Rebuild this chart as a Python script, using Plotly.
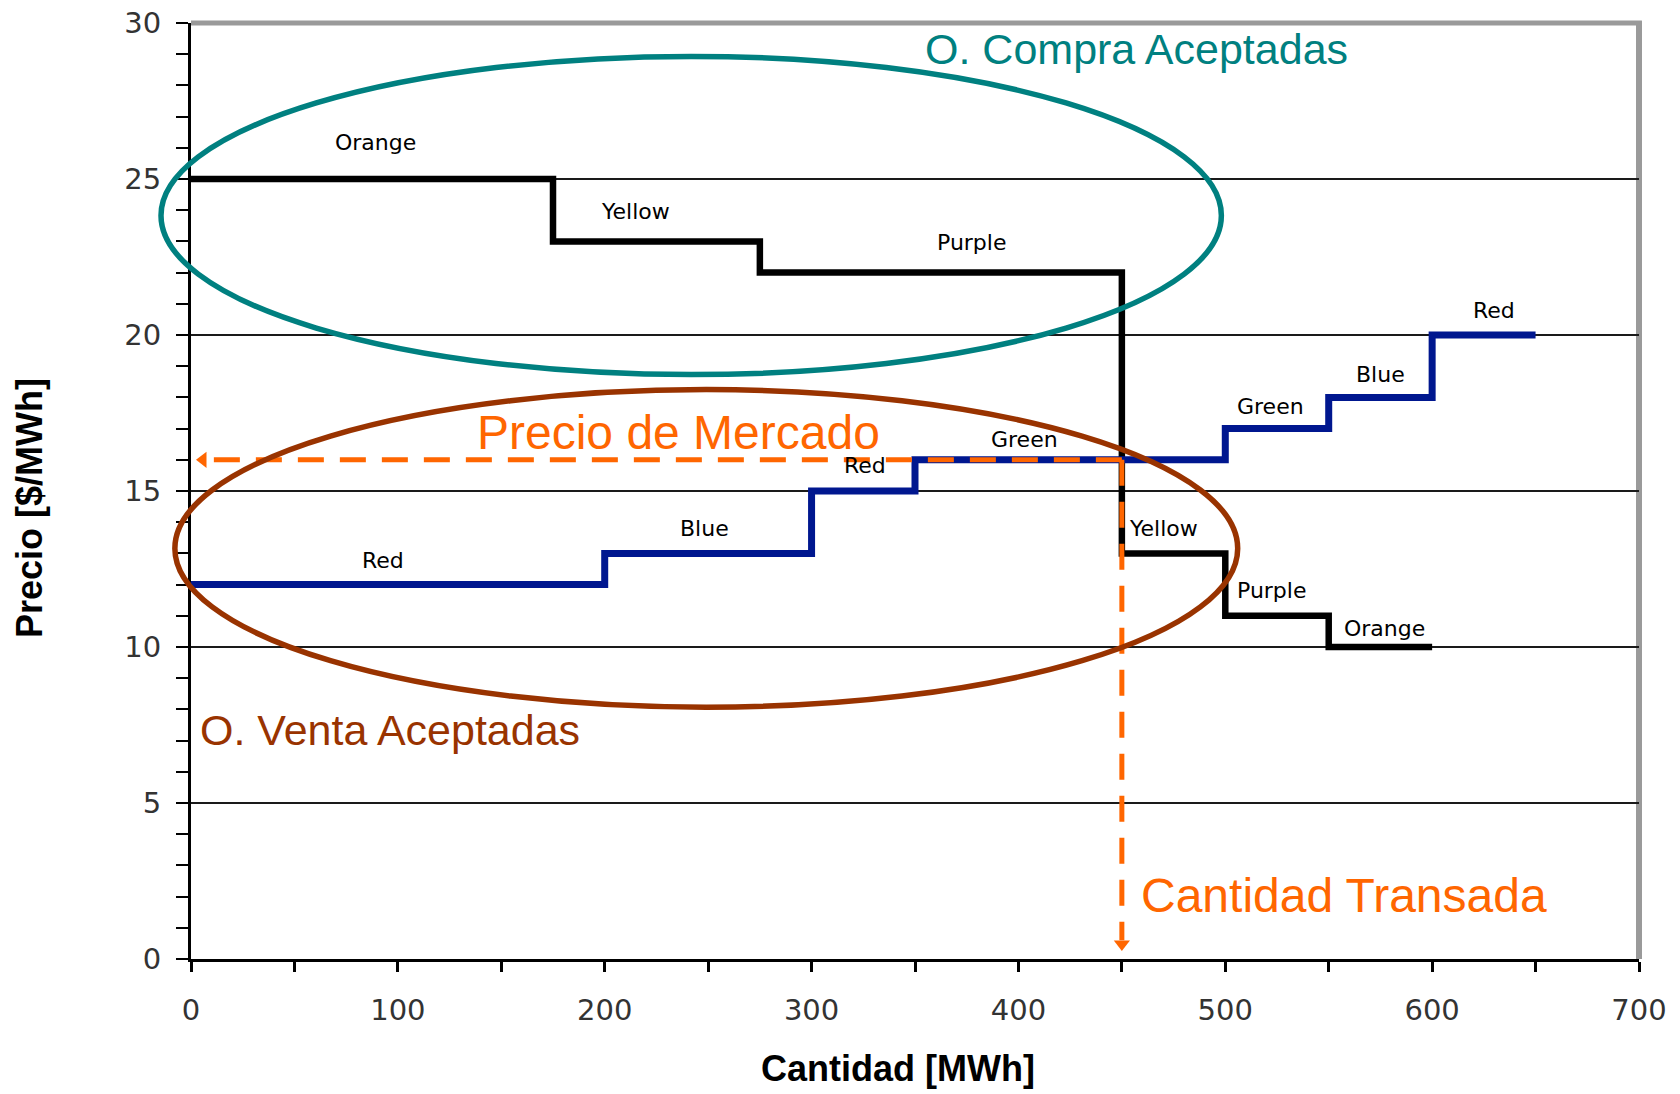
import numpy as np
import plotly.graph_objects as go

# Purchase bids (demand) and sale offers (supply): block sizes [MWh] and prices [$/MWh]
demand_names = ["Orange", "Yellow", "Purple", "Yellow", "Purple", "Orange"]
demand_mwh = [175, 100, 175, 50, 50, 50]
demand_price = [25, 23, 22, 13, 11, 10]

supply_names = ["Red", "Blue", "Red", "Green", "Green", "Blue", "Red"]
supply_mwh = [200, 100, 50, 150, 50, 50, 50]
supply_price = [12, 13, 15, 16, 17, 18, 20]

market_price = 16
traded_qty = 450

x_ticks = [0, 100, 200, 300, 400, 500, 600, 700]
y_ticks = [0, 5, 10, 15, 20, 25, 30]

X_RANGE = [0, 700]
Y_RANGE = [0, 30]

ORANGE = "#FF6600"
TEAL = "#008080"
BROWN = "#993300"
NAVY = "#00178F"


def step_xy(widths, prices):
    edges = np.concatenate([[0], np.cumsum(widths)])
    return edges, list(prices) + [prices[-1]]


def px(x):
    return (x - X_RANGE[0]) / (X_RANGE[1] - X_RANGE[0])


def py(y):
    return (y - Y_RANGE[0]) / (Y_RANGE[1] - Y_RANGE[0])


fig = go.Figure()

dx, dy = step_xy(demand_mwh, demand_price)
sx, sy = step_xy(supply_mwh, supply_price)

fig.add_trace(go.Scatter(x=dx, y=dy, mode="lines", line=dict(color="black", width=6.5, shape="hv"),
                         showlegend=False, hoverinfo="skip"))
fig.add_trace(go.Scatter(x=sx, y=sy, mode="lines", line=dict(color=NAVY, width=7, shape="hv"),
                         showlegend=False, hoverinfo="skip"))

# market clearing: dashed guides with arrowheads
fig.add_trace(go.Scatter(x=[traded_qty, 5], y=[market_price, market_price], mode="lines",
                         line=dict(color=ORANGE, width=5, dash="26px,16px"),
                         showlegend=False, hoverinfo="skip"))
fig.add_trace(go.Scatter(x=[traded_qty, traded_qty], y=[market_price, 0.6], mode="lines",
                         line=dict(color=ORANGE, width=5, dash="26px,16px"),
                         showlegend=False, hoverinfo="skip"))
fig.add_trace(go.Scatter(x=[5.8], y=[market_price], mode="markers", cliponaxis=False,
                         marker=dict(symbol="triangle-left", size=14, color=ORANGE),
                         showlegend=False, hoverinfo="skip"))
fig.add_trace(go.Scatter(x=[traded_qty], y=[0.48], mode="markers", cliponaxis=False,
                         marker=dict(symbol="triangle-down", size=14, color=ORANGE),
                         showlegend=False, hoverinfo="skip"))

annotations = []
label_font = dict(family="DejaVu Sans", size=22, color="black")

# block labels
demand_dx = [1.5, -10, 15, -5, -2.5, 2]
demand_shift = [37, 30, 30, 25, 25, 19]
for i, name in enumerate(demand_names):
    mid = (dx[i] + dx[i + 1]) / 2 + demand_dx[i]
    annotations.append(dict(x=mid, y=demand_price[i], text=name, showarrow=False,
                            yshift=demand_shift[i], font=label_font))

supply_dx = [-7, -2, 1, -22, -3, 0, 5]
supply_shift = [24, 25, 26, 20, 22, 23, 25]
for i, name in enumerate(supply_names):
    mid = (sx[i] + sx[i + 1]) / 2 + supply_dx[i]
    annotations.append(dict(x=mid, y=supply_price[i], text=name, showarrow=False,
                            yshift=supply_shift[i], font=label_font))

big = dict(family="Liberation Sans, Arial", size=43)
annotations += [
    dict(x=354, y=29.17, text="O. Compra Aceptadas", xanchor="left", yanchor="middle",
         showarrow=False, font=dict(big, color=TEAL)),
    dict(x=3.4, y=7.34, text="O. Venta Aceptadas", xanchor="left", yanchor="middle",
         showarrow=False, font=dict(big, color=BROWN)),
    dict(x=137.3, y=16.86, text="Precio de Mercado", xanchor="left", yanchor="middle",
         showarrow=False, font=dict(family="Liberation Sans, Arial", size=48, color=ORANGE)),
    dict(x=458.4, y=2.05, text="Cantidad Transada", xanchor="left", yanchor="middle",
         showarrow=False, font=dict(family="Liberation Sans, Arial", size=48, color=ORANGE)),
    dict(x=-0.111, y=0.482, xref="paper", yref="paper", text="<b>Precio [$/MWh]</b>", textangle=-90,
         xanchor="center", yanchor="middle",
         showarrow=False, font=dict(family="Liberation Sans, Arial", size=36, color="black")),
    dict(x=0.488, y=-0.1175, xref="paper", yref="paper", text="<b>Cantidad [MWh]</b>",
         xanchor="center", yanchor="middle",
         showarrow=False, font=dict(family="Liberation Sans, Arial", size=36, color="black")),
]


def ellipse(cx, cy, rx, ry, color):
    return dict(type="circle", xref="paper", yref="paper",
                x0=px(cx - rx), x1=px(cx + rx), y0=py(cy - ry), y1=py(cy + ry),
                line=dict(color=color, width=5.5), layer="above")


shapes = [
    ellipse(241.8, 23.83, 256.3, 5.10, TEAL),
    ellipse(249.1, 13.16, 256.9, 5.09, BROWN),
    # grey frame on the top and right sides
    dict(type="line", xref="paper", yref="paper", x0=0, x1=1.002, y0=1, y1=1,
         line=dict(color="#9a9a9a", width=5), layer="below"),
    dict(type="line", xref="paper", yref="paper", x0=1, x1=1, y0=0, y1=1.002,
         line=dict(color="#9a9a9a", width=6), layer="below"),
]

fig.update_layout(
    width=1680, height=1094,
    margin=dict(l=191, r=41, t=23, b=135, autoexpand=False),
    paper_bgcolor="white", plot_bgcolor="white",
    annotations=annotations, shapes=shapes,
    xaxis=dict(range=X_RANGE, tickvals=x_ticks, showgrid=False, zeroline=False, automargin=False,
               showline=True, linecolor="black", linewidth=3,
               ticks="outside", ticklen=10, tickwidth=2, tickcolor="black",
               minor=dict(dtick=50, ticks="outside", ticklen=10, tickwidth=3, tickcolor="black"),
               ticklabelstandoff=13,
               tickfont=dict(family="DejaVu Sans", size=29, color="#333333")),
    yaxis=dict(range=Y_RANGE, tickvals=y_ticks, showgrid=True, gridcolor="#1a1a1a", gridwidth=1.5,
               zeroline=False, showline=True, linecolor="black", linewidth=3, automargin=False,
               ticks="outside", ticklen=12, tickwidth=2, tickcolor="black",
               minor=dict(dtick=1, ticks="outside", ticklen=12, tickwidth=2, tickcolor="black", showgrid=False),
               ticklabelstandoff=9,
               tickfont=dict(family="DejaVu Sans", size=29, color="#333333")),
)

fig.write_html("out.html")
